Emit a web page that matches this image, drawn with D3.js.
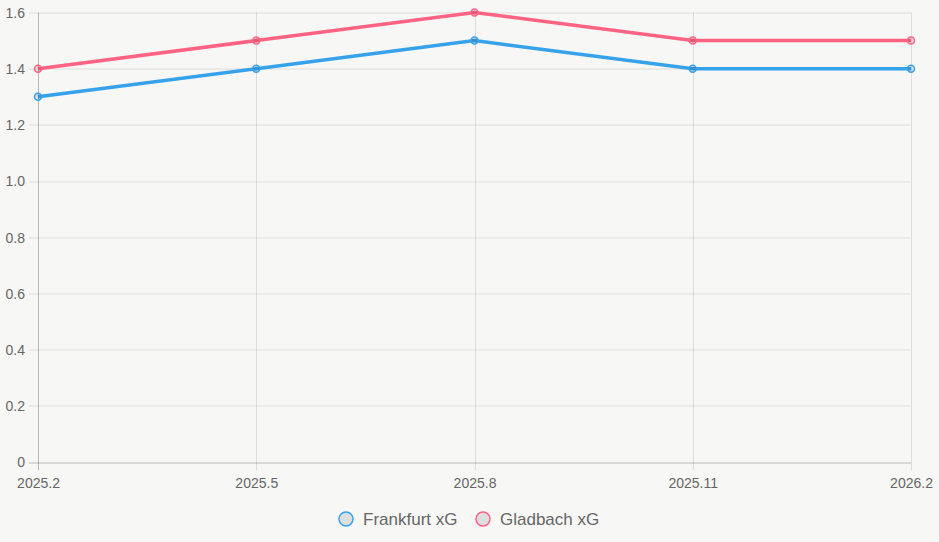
<!DOCTYPE html>
<html>
<head>
<meta charset="utf-8">
<script src="https://cdn.jsdelivr.net/npm/d3@7"></script>
<style>
  html, body { margin: 0; padding: 0; background: #f7f7f5; }
  svg { display: block; font-family: "Liberation Sans", Arial, Helvetica, sans-serif; }
</style>
</head>
<body>
<svg id="viz"></svg>
<script>
// data
var categories = ['2025.2', '2025.5', '2025.8', '2025.11', '2026.2'];
var frankfurtXG = [1.3, 1.4, 1.5, 1.4, 1.4];
var gladbachXG = [1.4, 1.5, 1.6, 1.5, 1.5];
var yTicks = [0, 0.2, 0.4, 0.6, 0.8, 1.0, 1.2, 1.4, 1.6];
var seriesNames = ['Frankfurt xG', 'Gladbach xG'];
var seriesColors = ['#36a2eb', '#ff6384'];

var width = 939, height = 542;
var margin = { top: 12.5, right: 28, bottom: 80, left: 38 };
var drawWidth = width - margin.left - margin.right;
var drawHeight = height - margin.top - margin.bottom;

var svg = d3.select('#viz')
            .attr('width', width)
            .attr('height', height);

var g = svg.append('g')
           .attr('transform', `translate(${margin.left}, ${margin.top})`);

var xScale = d3.scalePoint().domain(categories).range([0, drawWidth]);
var yScale = d3.scaleLinear().domain([0, 1.6]).range([drawHeight, 0]);

// grid
g.selectAll('.hgrid').data(yTicks).enter().append('line')
  .attr('x1', -9).attr('x2', drawWidth)
  .attr('y1', d => Math.round(yScale(d)) + 0.5).attr('y2', d => Math.round(yScale(d)) + 0.5)
  .attr('stroke', d => d === 0 ? 'rgba(0,0,0,0.25)' : 'rgba(0,0,0,0.1)');

g.selectAll('.vgrid').data(categories).enter().append('line')
  .attr('x1', d => Math.round(xScale(d)) + 0.5).attr('x2', d => Math.round(xScale(d)) + 0.5)
  .attr('y1', 0).attr('y2', drawHeight + 8)
  .attr('stroke', (d, i) => i === 0 ? 'rgba(0,0,0,0.25)' : 'rgba(0,0,0,0.1)');

// axes labels
var yAxis = d3.axisLeft(yScale).tickValues(yTicks).tickSize(0).tickPadding(13)
  .tickFormat(d => d === 0 ? '0' : d3.format('.1f')(d));
var yG = g.append('g').call(yAxis);
yG.select('.domain').remove();
yG.selectAll('text').attr('fill', '#666').style('font-size', '14px').attr('dy', '0.35em');

var xAxis = d3.axisBottom(xScale).tickSize(0).tickPadding(16);
var xG = g.append('g').attr('transform', `translate(0, ${drawHeight})`).call(xAxis);
xG.select('.domain').remove();
xG.selectAll('text').attr('fill', '#666').style('font-size', '14px');

// lines
var allSeries = [frankfurtXG, gladbachXG];
var line = d3.line().x((d, i) => xScale(categories[i])).y(d => yScale(d));

allSeries.forEach(function(vals, s) {
  g.append('path')
    .datum(vals)
    .attr('d', line)
    .attr('fill', 'none')
    .attr('stroke', seriesColors[s])
    .attr('stroke-width', 3.5);
  g.selectAll('.pt' + s).data(vals).enter().append('circle')
    .attr('cx', (d, i) => xScale(categories[i]))
    .attr('cy', d => yScale(d))
    .attr('r', 3.5)
    .attr('fill', 'rgba(0,0,0,0.1)')
    .attr('stroke', seriesColors[s])
    .attr('stroke-width', 1.5);
});

// legend
var legend = svg.append('g').attr('transform', 'translate(0, 519)');
var legendX = [346, 483];
seriesNames.forEach(function(name, i) {
  legend.append('circle')
    .attr('cx', legendX[i]).attr('cy', 0).attr('r', 7)
    .attr('fill', '#dedede')
    .attr('stroke', seriesColors[i]).attr('stroke-width', 1.5);
  legend.append('text')
    .attr('x', legendX[i] + 17).attr('y', 0).attr('dy', '0.35em')
    .attr('fill', '#666').style('font-size', '17px')
    .text(name);
});
</script>
</body>
</html>
